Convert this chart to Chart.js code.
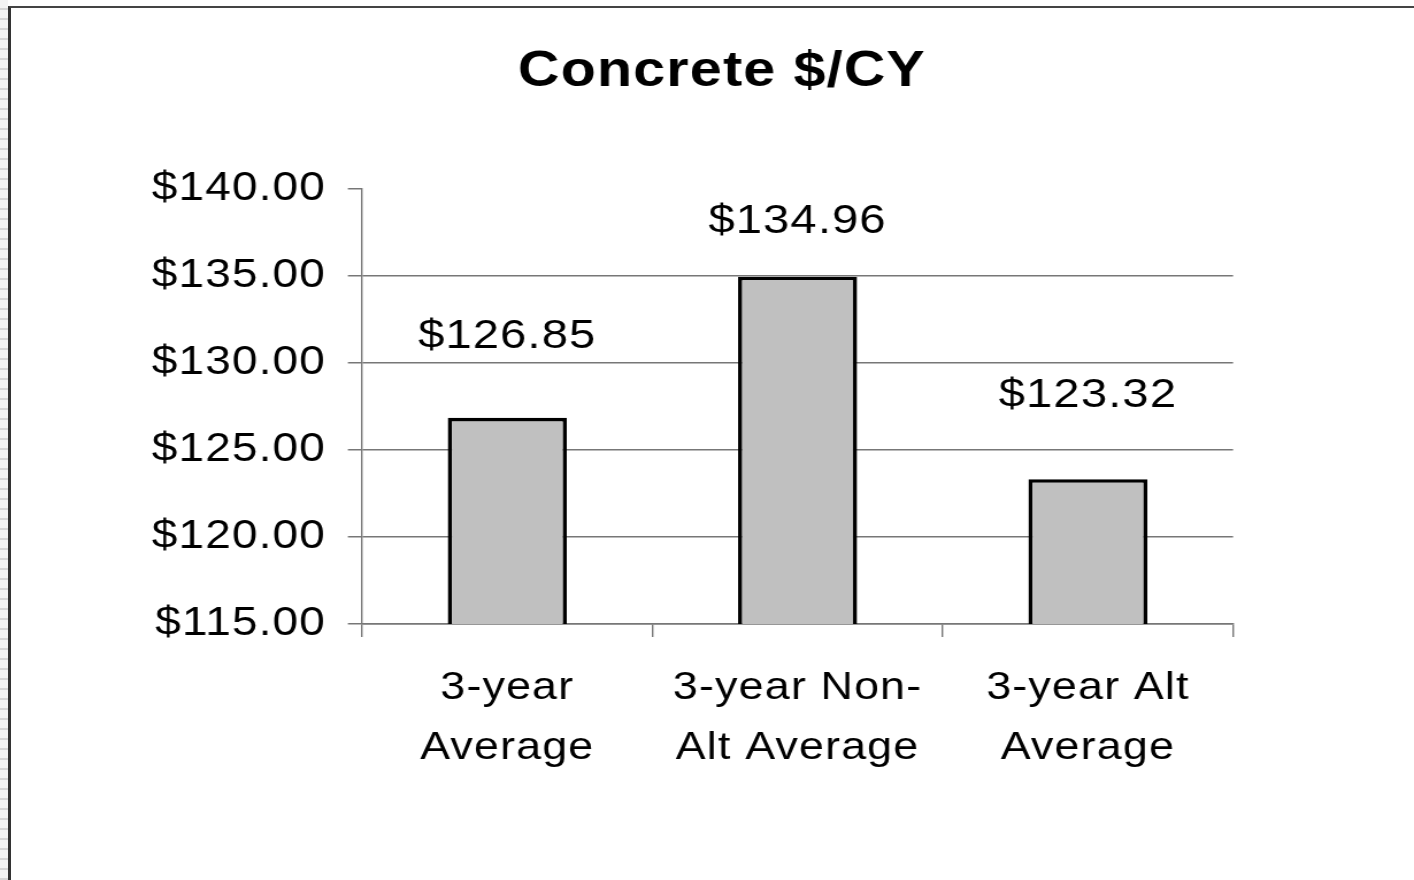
<!DOCTYPE html>
<html>
<head>
<meta charset="utf-8">
<script src="https://cdn.jsdelivr.net/npm/chart.js@4"></script>
<style>
  html, body { margin: 0; padding: 0; background: #fff; overflow: hidden; }
  #wrap { position: relative; width: 1414px; height: 880px; }
  #chart { position: absolute; left: 0; top: 0; }
  #strip { position: absolute; left: 0; top: 0; width: 8px; height: 880px;
    background: repeating-linear-gradient(to bottom, #f4f4f4 0 8px, #d6d6d6 8px 10px); }
  #frame { position: absolute; left: 8px; top: 6px; right: -10px; bottom: -10px;
    border-left: 3px solid #333; border-top: 2px solid #444; pointer-events: none; }
</style>
</head>
<body>
<div id="wrap">
  <!-- the original picture is stretched sideways, so the canvas is drawn narrow and widened by css -->
  <canvas id="chart" width="1230" height="880" style="width:1414px;height:880px"></canvas>
  <div id="strip"></div>
  <div id="frame"></div>
</div>
<script>
const categories = [
  ['3-year', 'Average'],
  ['3-year Non-', 'Alt Average'],
  ['3-year Alt', 'Average']
];
const costPerCY = [126.85, 134.96, 123.32];
const yTickValues = [115, 120, 125, 130, 135, 140];
const yTickLabels = ['$115.00', '$120.00', '$125.00', '$130.00', '$135.00', '$140.00'];

const FONT = 'Arial, "Liberation Sans", sans-serif';
const GRID = '#777';
const SPACING = '1px';

const spacing = {
  id: 'spacing',
  beforeUpdate(chart) { chart.ctx.letterSpacing = SPACING; },
  beforeDraw(chart) { chart.ctx.letterSpacing = SPACING; }
};

// value labels above each bar
const valueLabels = {
  id: 'valueLabels',
  afterDatasetsDraw(chart, args, opts) {
    const ctx = chart.ctx;
    const meta = chart.getDatasetMeta(0);
    ctx.save();
    ctx.letterSpacing = SPACING;
    ctx.font = '41px ' + FONT;
    ctx.fillStyle = '#000';
    ctx.textAlign = 'center';
    ctx.textBaseline = 'alphabetic';
    meta.data.forEach((bar, i) => {
      const v = chart.data.datasets[0].data[i];
      ctx.fillText('$' + v.toFixed(2), bar.x, bar.y - opts.offsets[i]);
    });
    ctx.restore();
  }
};

new Chart(document.getElementById('chart'), {
  type: 'bar',
  data: {
    labels: categories,
    datasets: [{
      data: costPerCY,
      backgroundColor: '#c0c0c0',
      borderColor: '#000',
      borderWidth: 3.6,
      borderSkipped: false,
      categoryPercentage: 1,
      barPercentage: 0.41
    }]
  },
  plugins: [spacing, valueLabels],
  options: {
    responsive: false,
    animation: false,
    events: [],
    layout: { padding: { left: 120, right: 94, top: 10, bottom: 0 } },
    plugins: {
      legend: { display: false },
      tooltip: { enabled: false },
      title: {
        display: true,
        text: 'Concrete $/CY',
        color: '#000',
        font: { family: FONT, size: 50, weight: 'bold', lineHeight: 1.2 },
        padding: { top: 32, bottom: 87 }
      },
      valueLabels: { offsets: [70, 44, 72] }
    },
    scales: {
      x: {
        afterFit(s) { s.height = 256; },
        border: { color: GRID, width: 1.5 },
        grid: { drawOnChartArea: false, tickLength: 13, color: GRID, lineWidth: 1.4, offset: true },
        ticks: {
          color: '#000',
          padding: 21,
          maxRotation: 0,
          autoSkip: false,
          font: { family: FONT, size: 39, lineHeight: 60 / 39 }
        }
      },
      y: {
        min: 115,
        max: 140,
        afterFit(s) { s.width = 315 - 120; },
        afterBuildTicks(s) { s.ticks = yTickValues.map(v => ({ value: v })); },
        border: { color: GRID, width: 1.4 },
        grid: {
          color: c => (c.tick && c.tick.value === 140) ? 'rgba(0,0,0,0)' : GRID,
          tickColor: GRID,
          lineWidth: 1.5,
          tickLength: 12.4
        },
        ticks: {
          color: '#000',
          padding: 19,
          font: { family: FONT, size: 40 },
          callback: (v, i) => yTickLabels[i]
        }
      },
      // empty box on the right so the title sits where Excel put it
      spacer: {
        type: 'linear',
        position: 'right',
        afterFit(s) { s.width = 1230 - 94 - 1072.6; },
        grid: { display: false },
        border: { display: false },
        ticks: { display: false }
      }
    }
  }
});
</script>
</body>
</html>
